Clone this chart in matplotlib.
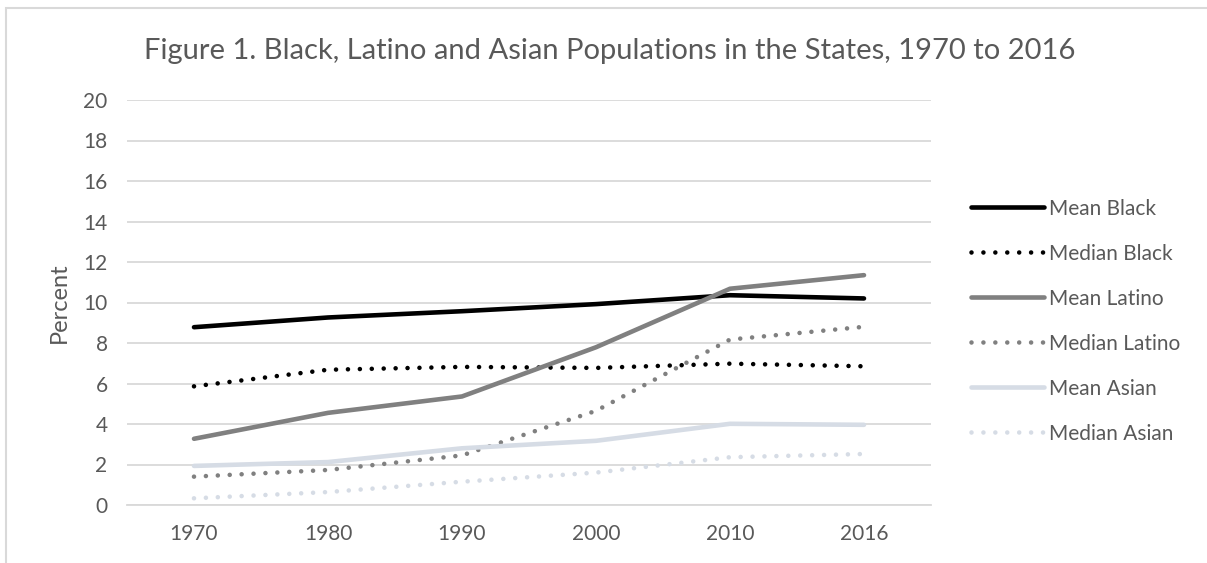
import numpy as np
import matplotlib.pyplot as plt
from matplotlib.patches import Rectangle

plt.rcParams['font.family'] = ['Lato', 'DejaVu Sans']

years = ['1970', '1980', '1990', '2000', '2010', '2016']

mean_black = [8.78, 9.26, 9.57, 9.92, 10.36, 10.2]
median_black = [5.86, 6.68, 6.82, 6.77, 6.98, 6.85]
mean_latino = [3.27, 4.55, 5.36, 7.79, 10.68, 11.35]
median_latino = [1.40, 1.73, 2.45, 4.65, 8.17, 8.8]
mean_asian = [1.93, 2.12, 2.8, 3.17, 4.01, 3.96]
median_asian = [0.33, 0.64, 1.15, 1.6, 2.36, 2.52]

txt = '#595959'
grid = '#D9D9D9'
lw = 3.3
dots = (0, (0.001, 2.6))

fig = plt.figure(figsize=(12.07, 5.63), dpi=100)
ax = fig.add_axes([127 / 1207, 58 / 563, 804 / 1207, 405 / 563])

x = np.arange(len(years))
series = [
    ('Mean Black', mean_black, 'black', '-'),
    ('Median Black', median_black, 'black', dots),
    ('Mean Latino', mean_latino, '#808080', '-'),
    ('Median Latino', median_latino, '#808080', dots),
    ('Mean Asian', mean_asian, '#D6DCE5', '-'),
    ('Median Asian', median_asian, '#D6DCE5', dots),
]
for name, vals, col, ls in series:
    ax.plot(x, vals, color=col, linestyle=ls, lw=lw, label=name,
            solid_capstyle='round', dash_capstyle='round')

ax.set_xlim(-0.5, len(years) - 0.5)
ax.set_ylim(0, 20)
ax.set_yticks(range(0, 21, 2))
ax.set_xticks(x)
ax.set_xticklabels(years)
ax.grid(axis='y', color=grid, lw=1.3)
ax.set_axisbelow(True)
for s in ['top', 'right', 'left']:
    ax.spines[s].set_visible(False)
ax.spines['bottom'].set_color(grid)
ax.spines['bottom'].set_linewidth(1.3)
ax.tick_params(length=0, labelsize=15, colors=txt)
ax.tick_params(axis='y', pad=14)
ax.tick_params(axis='x', pad=14)
ax.set_ylabel('Percent', fontsize=17, color=txt, labelpad=10)

fig.text(610 / 1207, 1 - 59 / 563,
         'Figure 1. Black, Latino and Asian Populations in the States, 1970 to 2016',
         ha='center', va='baseline', fontsize=21, color=txt)

leg = fig.legend(loc='upper left', bbox_to_anchor=(952 / 1207, 1 - 180 / 563),
                 frameon=False, fontsize=15, labelcolor=txt, handlelength=3.5,
                 handletextpad=0.25, labelspacing=1.2)

# outer chart frame
fig.patches.append(Rectangle((6 / 1207, -0.1), 1.2, 1 - 8 / 563 + 0.1,
                             transform=fig.transFigure, fill=False,
                             edgecolor=grid, lw=1.5))

fig.savefig('out.png', dpi=100)
